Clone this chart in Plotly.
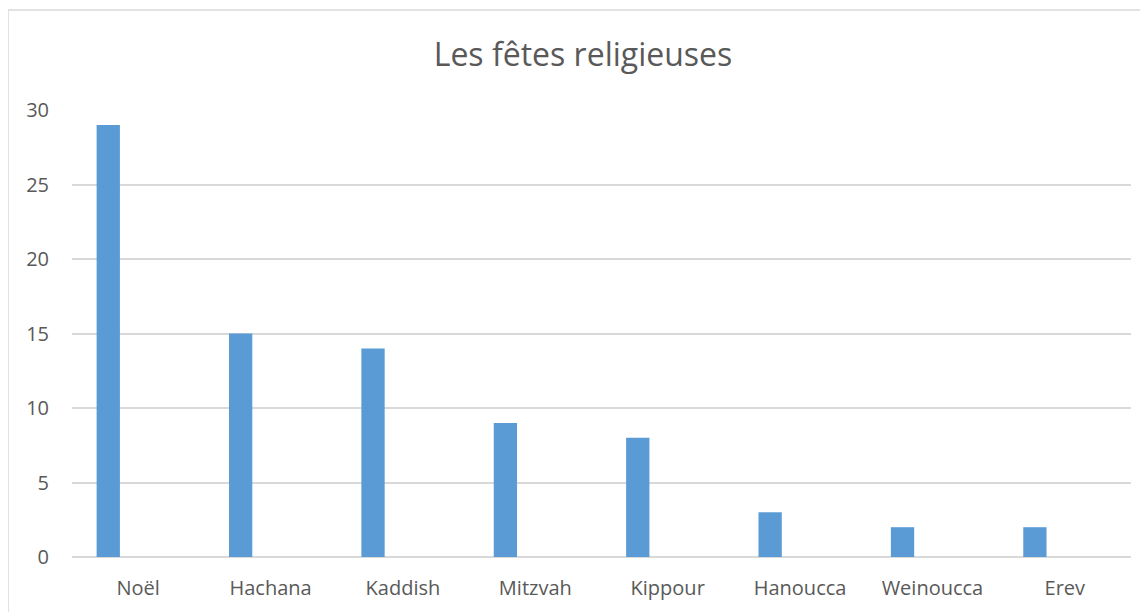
import plotly.graph_objects as go

# %%
fetes = ['Noël', 'Hachana', 'Kaddish', 'Mitzvah', 'Kippour', 'Hanoucca', 'Weinoucca', 'Erev']
nombres = [29, 15, 14, 9, 8, 3, 2, 2]
y_ticks = [0, 5, 10, 15, 20, 25, 30]

# %%
# the page puts the figure 8px in from the top-left corner
OFF = 8
W, H = 1148 - OFF, 612 - OFF
ml, mr, mt, mb = 72 - OFF, 17, 110 - OFF, 55
pw = W - ml - mr
ph = H - mt - mb


def px_x(p):
    return (p - OFF - ml) / pw


def px_y(p):
    return (H - mb - (p - OFF)) / ph


txt = '#595959'
grid = '#D9D9D9'

# %%
bars = go.Bar(
    x=fetes, y=nombres, marker_color='#5B9BD5', marker_line_width=0,
    offset=-0.314, width=0.176, hoverinfo='x+y'
)

layout = go.Layout(
    width=W, height=H,
    margin=dict(l=ml, r=mr, t=mt, b=mb),
    paper_bgcolor='white', plot_bgcolor='white',
    font=dict(family='Open Sans', color=txt, size=20),
    title=dict(text='Les fêtes religieuses', xref='container',
               x=(583 - OFF) / W, xanchor='center',
               yref='container', y=1 - (55 - OFF) / H, yanchor='middle',
               font=dict(size=32, color=txt)),
    xaxis=dict(type='category', range=[-0.5, 7.5], showgrid=False,
               showline=False, ticks='', ticklabelstandoff=17),
    yaxis=dict(range=[0, 30], tickvals=y_ticks, showgrid=True, gridcolor=grid,
               gridwidth=1.5, zeroline=True, zerolinecolor=grid, zerolinewidth=1.5,
               showline=False, ticks='', ticklabelstandoff=22),
    showlegend=False,
    shapes=[dict(type='rect', xref='paper', yref='paper',
                 x0=px_x(8), x1=px_x(1147.5), y0=px_y(640), y1=px_y(10),
                 line=dict(color=grid, width=1.5), fillcolor='rgba(0,0,0,0)',
                 layer='below')]
)

fig = go.Figure(data=[bars], layout=layout)
fig.write_html('out.html')
